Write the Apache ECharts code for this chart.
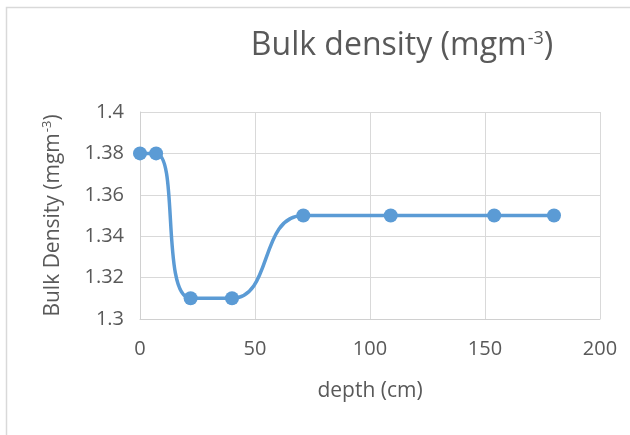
<!DOCTYPE html>
<html>
<head>
<meta charset="utf-8">
<script src="https://cdn.jsdelivr.net/npm/echarts@6/dist/echarts.min.js"></script>
<style>
  html, body { margin: 0; padding: 0; background: #fff; }
  #chart { width: 630px; height: 435px; }
</style>
</head>
<body>
<div id="chart"></div>
<script>
// depth (cm) and bulk density
const depth = [0, 7, 22, 40, 71, 109, 154, 180];
const bulkDensity = [1.38, 1.38, 1.31, 1.31, 1.35, 1.35, 1.35, 1.35];

const textColor = '#595959';
const lineColor = '#5B9BD5';
const font = '"Open Sans", "Noto Sans", sans-serif';

const chart = echarts.init(document.getElementById('chart'));

chart.setOption({
  animation: false,
  // chart area border (runs off the right and bottom edges)
  graphic: [{
    type: 'rect',
    silent: true,
    shape: { x: 6.5, y: 7.5, width: 700, height: 500 },
    style: { fill: 'none', stroke: '#d9d9d9', lineWidth: 1.5 }
  }],
  title: {
    text: '{t|Bulk density (mgm}{s|-3}{t|)}',
    left: 397,
    top: 20,
    textAlign: 'center',
    textStyle: {
      fontWeight: 'normal',
      rich: {
        t: { fontSize: 32, fontWeight: 'normal', color: textColor, fontFamily: font, verticalAlign: 'bottom', lineHeight: 37 },
        s: { fontSize: 18, fontWeight: 'normal', color: textColor, fontFamily: font, verticalAlign: 'top', lineHeight: 37, padding: [5, 0, 0, 1] }
      }
    }
  },
  grid: { left: 140, right: 30, top: 112, bottom: 116 },
  xAxis: {
    type: 'value',
    min: 0,
    max: 200,
    interval: 50,
    name: 'depth (cm)',
    nameLocation: 'middle',
    nameGap: 62,
    nameTextStyle: { fontSize: 21, color: textColor, fontFamily: font },
    axisLine: { show: true, lineStyle: { color: '#d0d0d0', width: 1 } },
    axisTick: { show: false },
    axisLabel: { fontSize: 20, color: textColor, fontFamily: font, margin: 20 },
    splitLine: { show: true, lineStyle: { color: '#d9d9d9', width: 1 } }
  },
  yAxis: {
    type: 'value',
    min: 1.3,
    max: 1.4,
    interval: 0.02,
    name: '{t|Bulk Density (mgm}{s|-3}{t|)}',
    nameLocation: 'middle',
    nameGap: 76,
    nameTextStyle: {
      rich: {
        t: { fontSize: 21, color: textColor, fontFamily: font, verticalAlign: 'bottom', lineHeight: 26 },
        s: { fontSize: 13, color: textColor, fontFamily: font, verticalAlign: 'top', lineHeight: 26, padding: [3, 0, 0, 1] }
      }
    },
    axisLine: { show: true, lineStyle: { color: '#d0d0d0', width: 1 } },
    axisTick: { show: false },
    axisLabel: {
      fontSize: 20, color: textColor, fontFamily: font, margin: 16,
      formatter: v => String(parseFloat(v.toFixed(2)))
    },
    splitLine: { show: true, lineStyle: { color: '#d9d9d9', width: 1 } }
  },
  series: [{
    type: 'line',
    data: depth.map((d, i) => [d, bulkDensity[i]]),
    smooth: 0.5,
    symbol: 'circle',
    symbolSize: 14,
    lineStyle: { color: lineColor, width: 3.5 },
    itemStyle: { color: lineColor }
  }]
});
</script>
</body>
</html>
